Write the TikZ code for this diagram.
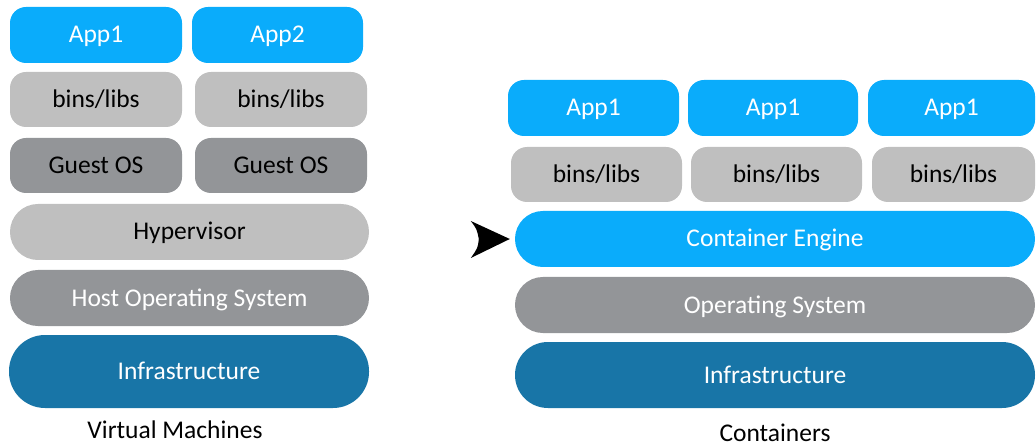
\documentclass[tikz,border=0pt]{standalone}
\usepackage{fontspec}
\setmainfont{Carlito}
\definecolor{appblue}{RGB}{10,172,251}
\definecolor{lightgrey}{RGB}{191,191,191}
\definecolor{darkgrey}{RGB}{147,149,152}
\definecolor{infrablue}{RGB}{24,117,167}
\tikzset{
  txt/.style={inner sep=0pt, text height=16pt, text depth=0pt,
    font=\fontsize{25.5}{30}\selectfont},
  layer/.style={txt, draw=none, align=center},
  appbox/.style={layer, fill=appblue, text=white, rounded corners=16pt},
  libbox/.style={layer, fill=lightgrey, text=black, rounded corners=16pt},
  guestbox/.style={layer, fill=darkgrey, text=black, rounded corners=16pt},
  pillgrey/.style={layer, fill=lightgrey, text=black, rounded corners=27.9pt},
  pilldark/.style={layer, fill=darkgrey, text=white, rounded corners=27.9pt},
  pillblue/.style={layer, fill=appblue, text=white, rounded corners=27.9pt},
  pillinfra/.style={layer, fill=infrablue, text=white},
  caption/.style={txt}
}
\begin{document}
\begin{tikzpicture}[x=1pt, y=-1pt]
\useasboundingbox (0,0) rectangle (1036,446);
% Virtual machines stack
\node[appbox, minimum width=172pt, minimum height=56pt] (vapp1) at (96,35) {App1};
\node[appbox, minimum width=171pt, minimum height=56pt] (vapp2) at (277.5,35) {App2};
\node[libbox, minimum width=172pt, minimum height=55pt] (vlib1) at (96,99.5) {bins/libs};
\node[libbox, minimum width=172pt, minimum height=55pt] (vlib2) at (281,99.5) {bins/libs};
\node[guestbox, minimum width=172pt, minimum height=55pt] (guest1) at (96,165.5) {Guest OS};
\node[guestbox, minimum width=172pt, minimum height=55pt] (guest2) at (281,165.5) {Guest OS};
\node[pillgrey, minimum width=359pt, minimum height=56pt] (hyper) at (189.5,232) {Hypervisor};
\node[pilldark, minimum width=359pt, minimum height=56pt] (hostos) at (189.5,298) {Host Operating System};
\node[pillinfra, rounded corners=36pt, minimum width=360pt, minimum height=73pt] (vinfra) at (189,371.5) {Infrastructure};
\node[caption] (vmlabel) at (175,430) {Virtual Machines};
% Containers stack
\node[appbox, minimum width=171pt, minimum height=56pt] (capp1) at (593.5,108) {App1};
\node[appbox, minimum width=170pt, minimum height=56pt] (capp2) at (773,108) {App1};
\node[appbox, minimum width=167pt, minimum height=56pt] (capp3) at (951.5,108) {App1};
\node[libbox, minimum width=171pt, minimum height=55pt] (clib1) at (596.5,174.5) {bins/libs};
\node[libbox, minimum width=171pt, minimum height=55pt] (clib2) at (776.5,174.5) {bins/libs};
\node[libbox, minimum width=163pt, minimum height=55pt] (clib3) at (953.5,174.5) {bins/libs};
\node[pillblue, minimum width=520pt, minimum height=56pt] (engine) at (775,239) {Container Engine};
\node[pilldark, minimum width=520pt, minimum height=56pt] (os) at (775,305) {Operating System};
\node[pillinfra, rounded corners=32.9pt, minimum width=520pt, minimum height=66pt] (cinfra) at (775,375) {Infrastructure};
\node[caption] (ctlabel) at (775,433) {Containers};
% Pointer towards the container engine
\coordinate (tip) at ([xshift=-5pt]engine.west);
\fill[black] (tip) -- ++(-39,-18) .. controls ++(6,8) .. ++(8,18)
  .. controls ++(-1,9) .. ++(-8,19) -- cycle;
\end{tikzpicture}
\end{document}
